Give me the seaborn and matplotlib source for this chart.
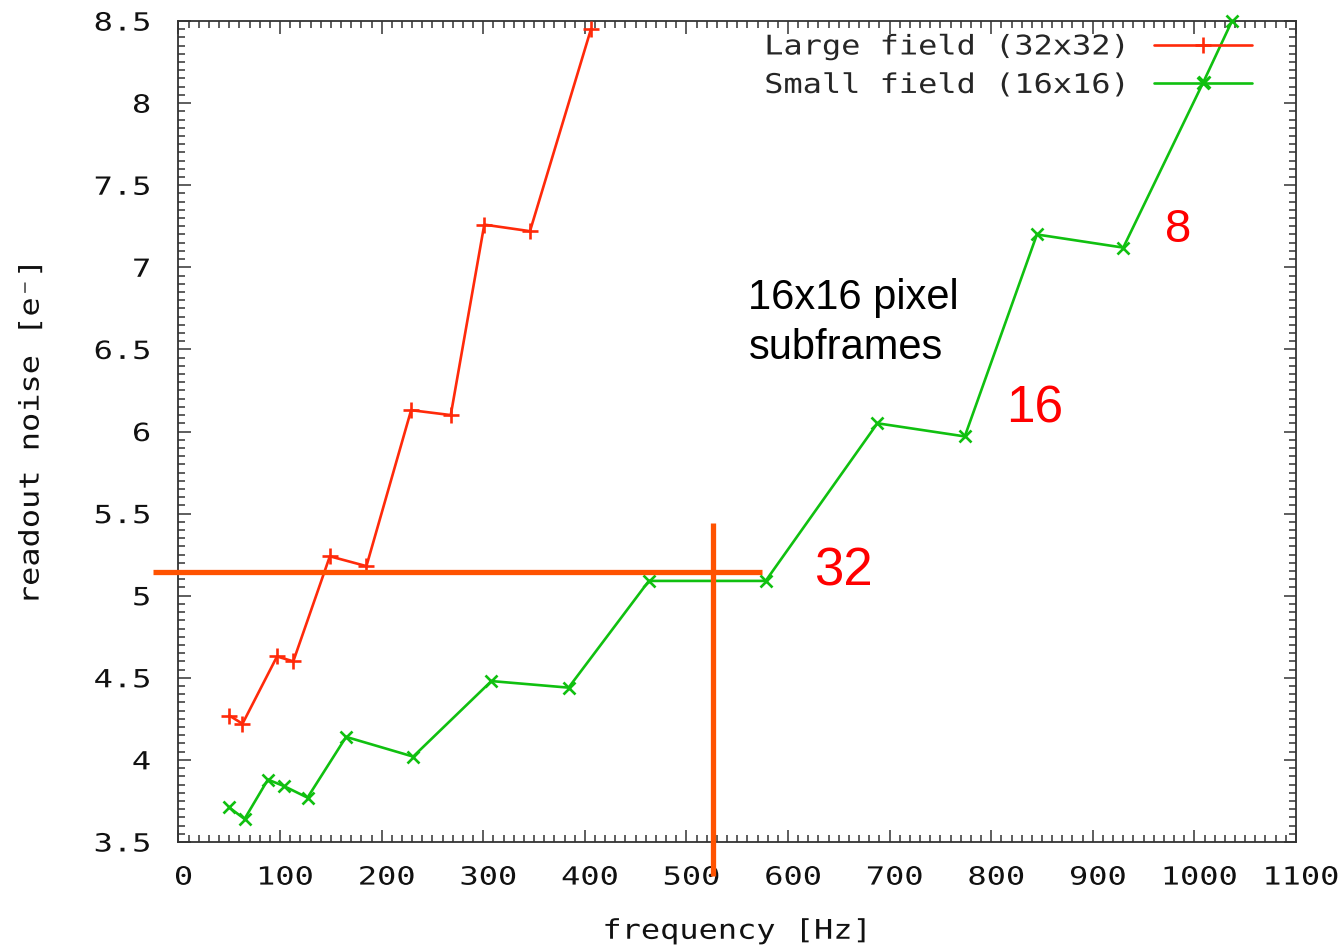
import matplotlib
matplotlib.use("Agg")
import matplotlib.pyplot as plt
from matplotlib.lines import Line2D
from matplotlib.ticker import MultipleLocator, FuncFormatter
from matplotlib.patheffects import AbstractPathEffect
from matplotlib.transforms import Affine2D
import seaborn as sns
import pandas as pd

# Readout noise versus frame frequency, large field (32x32)
large_freq = [50, 63, 97, 113, 149, 185, 229, 268, 301, 346, 406]
large_noise = [4.27, 4.22, 4.63, 4.60, 5.24, 5.18, 6.13, 6.10, 7.26, 7.22, 8.45]

# Small field (16x16)
small_freq = [50, 65, 88, 104, 127, 165, 231, 308, 384, 463, 578, 688, 774, 845, 930, 1009, 1037]
small_noise = [3.71, 3.64, 3.88, 3.84, 3.77, 4.14, 4.02, 4.48, 4.44, 5.09, 5.09,
               6.05, 5.97, 7.20, 7.12, 8.13, 8.50]

series_labels = ["Large field (32x32)", "Small field (16x16)"]

# Crosshair marking the operating point
cross_h_x = [-25, 574]
cross_h_y = [5.145, 5.145]
cross_v_x = [526.5, 526.5]
cross_v_y = [3.29, 5.44]

# Subframe-size labels
step_labels = ["32", "16", "8"]
step_x = [654, 843, 984]
step_y = [5.15, 6.14, 7.23]
step_sizes = [38, 37, 34]


class HStretch(AbstractPathEffect):
    """Widen glyphs horizontally, keeping one point of the text fixed."""

    def __init__(self, sx, anchor="center", dx=0.0):
        super().__init__()
        self.sx = sx
        self.anchor = anchor
        self.dx = dx

    def draw_path(self, renderer, gc, tpath, affine, rgbFace=None):
        ext = tpath.get_extents()
        if self.anchor == "right":
            ax0 = ext.x1
        elif self.anchor == "left":
            ax0 = ext.x0
        else:
            ax0 = 0.5 * (ext.x0 + ext.x1)
        stretch = Affine2D().translate(-ax0, 0).scale(self.sx, 1).translate(ax0, 0)
        shift = Affine2D().translate(self.dx, 0)
        renderer.draw_path(gc, tpath, stretch + affine + shift, rgbFace)


sns.set_theme(style="ticks")
mono = ["DejaVu Sans Mono", "DejaVu Sans"]
plt.rcParams["font.family"] = mono

fig = plt.figure(figsize=(13.42, 9.47), dpi=100)
ax = fig.add_axes([0.1330, 0.1109, 0.8327, 0.8669])

red = "#ff2a0a"
green = "#10c010"
orange = "#ff5200"

df_large = pd.DataFrame({"freq": large_freq, "noise": large_noise})
df_small = pd.DataFrame({"freq": small_freq, "noise": small_noise})

sns.lineplot(data=df_large, x="freq", y="noise", ax=ax, sort=False, color=red,
             linewidth=1.9, marker="+", markersize=11, markeredgewidth=1.9,
             markeredgecolor=red, clip_on=False, zorder=3)
sns.lineplot(data=df_small, x="freq", y="noise", ax=ax, sort=False, color=green,
             linewidth=1.9, marker="x", markersize=8, markeredgewidth=1.9,
             markeredgecolor=green, clip_on=False, zorder=3)

ax.plot(cross_h_x, cross_h_y, color=orange, linewidth=3.8, clip_on=False,
        solid_capstyle="butt", zorder=4)
ax.plot(cross_v_x, cross_v_y, color=orange, linewidth=3.8, clip_on=False,
        solid_capstyle="butt", zorder=4)

for lab, x, y, s in zip(step_labels, step_x, step_y, step_sizes):
    ax.text(x, y, lab, color="#ff0000", fontsize=s, ha="center", va="center",
            family=["Liberation Sans", "DejaVu Sans"])

ax.text(561, 6.66, "16x16 pixel\nsubframes", color="black", fontsize=30,
        ha="left", va="center", linespacing=1.32,
        family=["Liberation Sans", "DejaVu Sans"])

ax.set_xlim(0, 1100)
ax.set_ylim(3.5, 8.5)
ax.xaxis.set_major_locator(MultipleLocator(100))
ax.xaxis.set_minor_locator(MultipleLocator(10))
ax.yaxis.set_major_locator(MultipleLocator(0.5))
ax.yaxis.set_minor_locator(MultipleLocator(0.05))
ax.yaxis.set_major_formatter(FuncFormatter(lambda v, p: f"{v:g}"))

spine_col = "#333333"
for sp in ax.spines.values():
    sp.set_visible(True)
    sp.set_color(spine_col)
    sp.set_linewidth(1.3)

ax.tick_params(which="both", direction="in", top=True, right=True,
               color=spine_col, width=1.1, labelsize=18, labelcolor="#111111")
ax.tick_params(which="major", length=9)
ax.tick_params(which="minor", length=5)
ax.tick_params(axis="y", pad=20)
ax.tick_params(axis="x", pad=17)

ax.set_xlabel("frequency [Hz]", fontsize=19.5, labelpad=21, color="#111111")
ax.set_ylabel("readout noise [e\u207b]", fontsize=19.5, labelpad=44, color="#111111")

handles = [
    Line2D([], [], color=red, linewidth=1.9, marker="+", markersize=11, markeredgewidth=1.9),
    Line2D([], [], color=green, linewidth=1.9, marker="x", markersize=8, markeredgewidth=1.9),
]
leg = ax.legend(handles, series_labels, loc="upper right", bbox_to_anchor=(0.980, 1.010),
                frameon=False, markerfirst=False, fontsize=19.5, handlelength=3.6,
                handletextpad=0.9, labelspacing=0.46, borderpad=0.3)

fig.canvas.draw()
for t in ax.get_xticklabels():
    t.set_path_effects([HStretch(1.28, "center", dx=5)])
for t in ax.get_yticklabels():
    t.set_path_effects([HStretch(1.28, "right")])
for t in leg.get_texts():
    t.set_path_effects([HStretch(1.18, "right")])
ax.xaxis.label.set_path_effects([HStretch(1.18, "center")])
ax.yaxis.label.set_path_effects([HStretch(1.18, "center")])

fig.savefig("out.png", dpi=100)
